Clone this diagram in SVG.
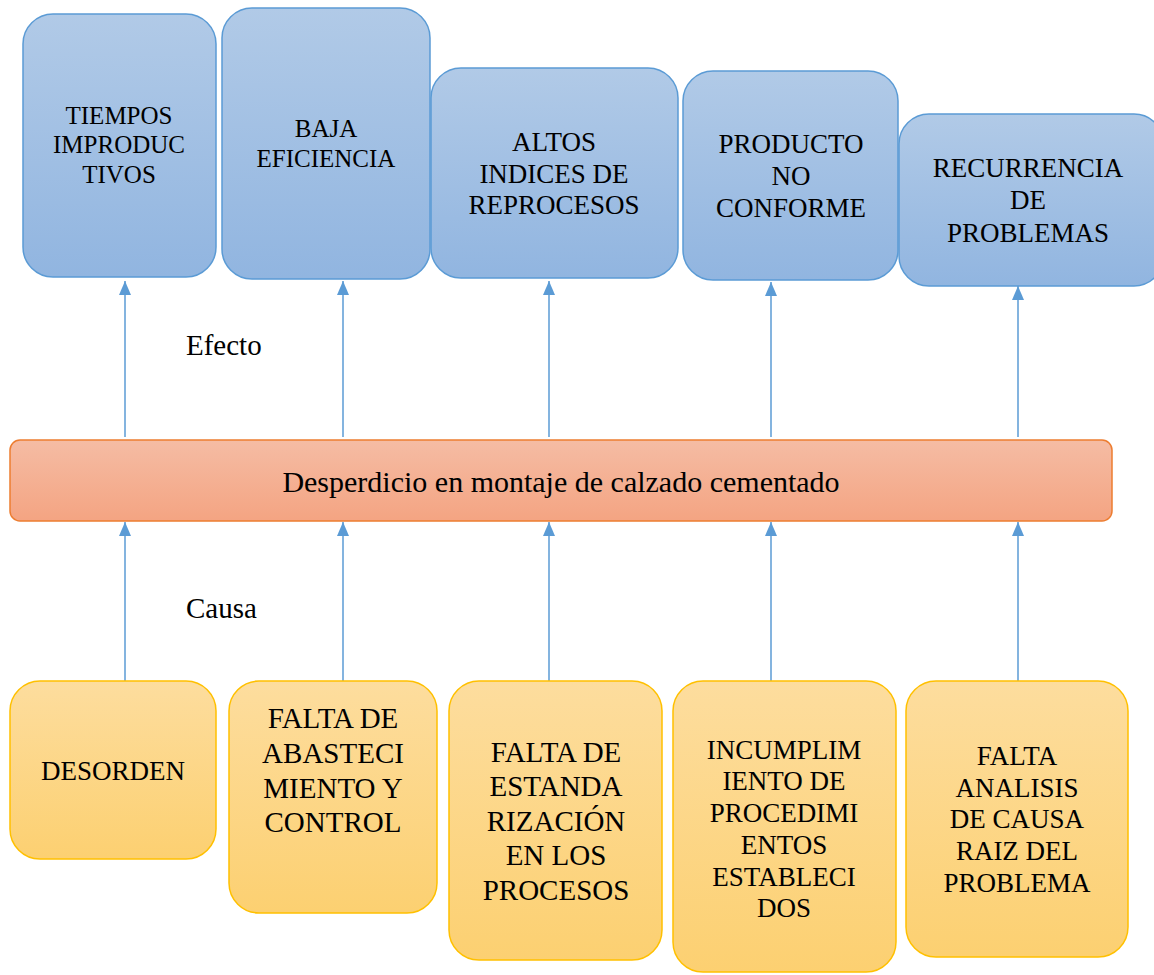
<svg xmlns="http://www.w3.org/2000/svg" width="1154" height="975" viewBox="0 0 1154 975">
<defs>
<linearGradient id="gb" x1="0" y1="0" x2="0" y2="1"><stop offset="0" stop-color="#B1CAE7"/><stop offset="1" stop-color="#91B5E0"/></linearGradient>
<linearGradient id="go" x1="0" y1="0" x2="0" y2="1"><stop offset="0" stop-color="#FDDD9E"/><stop offset="1" stop-color="#FCD071"/></linearGradient>
<linearGradient id="gr" x1="0" y1="0" x2="0" y2="1"><stop offset="0" stop-color="#F5BCA4"/><stop offset="1" stop-color="#F4A482"/></linearGradient>
<marker id="ah" markerWidth="14" markerHeight="12" refX="14" refY="6" orient="auto" markerUnits="userSpaceOnUse" viewBox="0 0 14 12">
<path d="M0,0 L14,6 L0,12 Z" fill="#5B9BD5"/>
</marker>
<style>
.b{fill:url(#gb);stroke:#5B9BD5;stroke-width:1.5}
.o{fill:url(#go);stroke:#FFC000;stroke-width:1.5}
.r{fill:url(#gr);stroke:#ED7D31;stroke-width:1.5}
.tx{font-family:"Liberation Serif","Times New Roman",serif;fill:#000;text-anchor:middle}
.t1{font-size:25px}
.t2{font-size:27px}
.t3{font-size:29px}
.t4{font-size:27px}
.lab{font-size:29px;text-anchor:start}
.c{stroke:#5B9BD5;stroke-width:1.5;fill:none;marker-end:url(#ah)}
</style>
</defs>
<rect width="1154" height="975" fill="#fff"/>
<g id="connectors">
<line class="c" x1="125" y1="437" x2="125" y2="281"/>
<line class="c" x1="343" y1="437" x2="343" y2="281"/>
<line class="c" x1="549" y1="437" x2="549" y2="281"/>
<line class="c" x1="771" y1="437" x2="771" y2="282"/>
<line class="c" x1="1018" y1="437" x2="1018" y2="286"/>
<line class="c" x1="125" y1="681" x2="125" y2="522"/>
<line class="c" x1="343" y1="681" x2="343" y2="522"/>
<line class="c" x1="549" y1="681" x2="549" y2="522"/>
<line class="c" x1="771" y1="681" x2="771" y2="522"/>
<line class="c" x1="1018" y1="681" x2="1018" y2="522"/>
</g>
<g id="e1"><rect class="b" x="23" y="14" width="193" height="263" rx="30"/>
<text class="tx t1"><tspan x="119" y="124">TIEMPOS</tspan><tspan x="119" y="153">IMPRODUC</tspan><tspan x="119" y="183">TIVOS</tspan></text></g>
<g id="e2"><rect class="b" x="222" y="8" width="208" height="271" rx="30"/>
<text class="tx t1"><tspan x="326" y="137">BAJA</tspan><tspan x="326" y="167">EFICIENCIA</tspan></text></g>
<g id="e3"><rect class="b" x="431" y="68" width="247" height="210" rx="30"/>
<text class="tx t2"><tspan x="554" y="151">ALTOS</tspan><tspan x="554" y="183">INDICES DE</tspan><tspan x="554" y="214">REPROCESOS</tspan></text></g>
<g id="e4"><rect class="b" x="683" y="71" width="215" height="209" rx="30"/>
<text class="tx t2"><tspan x="791" y="153">PRODUCTO</tspan><tspan x="791" y="185">NO</tspan><tspan x="791" y="217">CONFORME</tspan></text></g>
<g id="e5"><rect class="b" x="899" y="114" width="265" height="172" rx="30"/>
<text class="tx t2"><tspan x="1028" y="177">RECURRENCIA</tspan><tspan x="1028" y="209">DE</tspan><tspan x="1028" y="242">PROBLEMAS</tspan></text></g>
<text class="tx lab" x="186" y="355">Efecto</text>
<text class="tx lab" x="186" y="618">Causa</text>
<g id="main"><rect class="r" x="10" y="440" width="1102" height="81" rx="10"/>
<text class="tx" font-size="30" x="561" y="492">Desperdicio en montaje de calzado cementado</text></g>
<g id="c1"><rect class="o" x="10" y="681" width="206" height="178" rx="30"/>
<text class="tx t4" x="113" y="780">DESORDEN</text></g>
<g id="c2"><rect class="o" x="229" y="681" width="208" height="232" rx="30"/>
<text class="tx t3"><tspan x="333" y="728">FALTA DE</tspan><tspan x="333" y="763">ABASTECI</tspan><tspan x="333" y="798">MIENTO Y</tspan><tspan x="333" y="832">CONTROL</tspan></text></g>
<g id="c3"><rect class="o" x="449" y="681" width="213" height="279" rx="30"/>
<text class="tx t3"><tspan x="556" y="762">FALTA DE</tspan><tspan x="556" y="796">ESTANDA</tspan><tspan x="556" y="831">RIZACIÓN</tspan><tspan x="556" y="865">EN LOS</tspan><tspan x="556" y="900">PROCESOS</tspan></text></g>
<g id="c4"><rect class="o" x="673" y="681" width="223" height="291" rx="30"/>
<text class="tx t4"><tspan x="784" y="759">INCUMPLIM</tspan><tspan x="784" y="790">IENTO DE</tspan><tspan x="784" y="822">PROCEDIMI</tspan><tspan x="784" y="854">ENTOS</tspan><tspan x="784" y="886">ESTABLECI</tspan><tspan x="784" y="917">DOS</tspan></text></g>
<g id="c5"><rect class="o" x="906" y="681" width="222" height="276" rx="30"/>
<text class="tx t4"><tspan x="1017" y="765">FALTA</tspan><tspan x="1017" y="797">ANALISIS</tspan><tspan x="1017" y="828">DE CAUSA</tspan><tspan x="1017" y="860">RAIZ DEL</tspan><tspan x="1017" y="892">PROBLEMA</tspan></text></g>
</svg>
